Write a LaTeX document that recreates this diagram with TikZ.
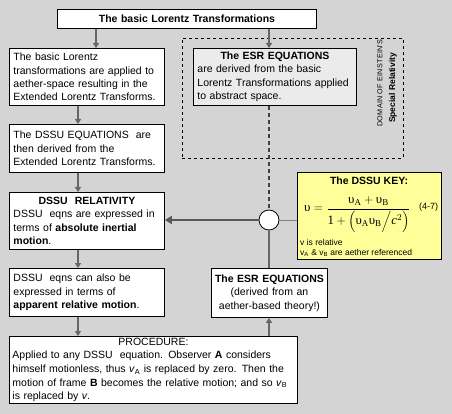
\documentclass[tikz,border=0pt]{standalone}
\usepackage{fontspec}
\usepackage{amsmath}
\setmainfont{Liberation Sans}
\newfontfamily\serif{Liberation Serif}
\usetikzlibrary{arrows.meta,calc}
\definecolor{bg}{HTML}{D4D4D4}
\definecolor{esrfill}{HTML}{EBEBEB}
\definecolor{keyfill}{HTML}{FFFF99}
\definecolor{arrowgray}{HTML}{666666}
\newcommand{\ups}{\text{\serif υ}}
\newcommand{\srm}[1]{\text{\serif #1}}
\begin{document}
\begin{tikzpicture}[x=1pt,y=-1pt,
 box/.style={draw=black, line width=0.9pt, fill=white, anchor=north west, inner xsep=4pt, inner ysep=0pt, align=left, font=\fontsize{10.5}{13.4}\selectfont},
 arr/.style={draw=arrowgray, line width=1.4pt, -{Triangle[length=5pt,width=6pt]}},
]
\fill[bg] (0,0) rectangle (452,414);
\useasboundingbox (0,0) rectangle (452,414);

% domain of special relativity
\node[draw, dashed, line width=0.8pt, minimum width=221pt, minimum height=120pt, anchor=north west, inner sep=0] (domain) at (182,38) {};
\node[rotate=90, font=\fontsize{7.2}{8}\selectfont\addfontfeatures{LetterSpace=4}, inner sep=0] (dom1) at (380,83) {DOMAIN OF EINSTEIN'S};
\node[rotate=90, font=\bfseries\fontsize{8.5}{10}\selectfont, inner sep=0] (dom2) at (393,88) {Special Relativity};

% boxes
\node[box, align=center, text width=251pt, minimum height=19pt, font=\bfseries\fontsize{10.5}{13}\selectfont] (title) at (57,9) {The basic Lorentz Transformations};

\node[box, text width=147pt, minimum height=57pt] (b1) at (9,48) {The basic Lorentz\\transformations are applied to\\aether-space resulting in the\\Extended Lorentz Transforms.};

\node[box, text width=147pt, minimum height=48pt] (b2) at (9,124) {The DSSU EQUATIONS\ \ are\\then derived from the\\Extended Lorentz Transforms.};

\node[box, text width=147pt, minimum height=57pt] (b3) at (9,192) {\makebox[\hsize][c]{\bfseries DSSU\ \ RELATIVITY}\\DSSU\ \ eqns are expressed in\\terms of \textbf{absolute inertial}\\\textbf{motion}.};

\node[box, text width=147pt, minimum height=48pt] (b4) at (9,268) {DSSU\ \ eqns can also be\\expressed in terms of\\\textbf{apparent relative motion}.};

\node[box, fill=esrfill, text width=155pt, minimum height=57pt] (esr1) at (193,48) {\makebox[\hsize][c]{\bfseries The ESR EQUATIONS}\\are derived from the basic\\Lorentz Transformations applied\\to abstract space.};

\node[box, align=center, inner xsep=1pt, text width=114pt, minimum height=49pt] (esr2) at (211,268) {\textbf{The ESR EQUATIONS}\\(derived from an\\aether-based theory!)};

\node[box, inner xsep=3pt, text width=282pt, minimum height=67pt, font=\fontsize{10.5}{13.6}\selectfont] (proc) at (9,336) {\makebox[\hsize][c]{PROCEDURE:}\\Applied to any DSSU\ \ equation. Observer \textbf{A} considers\\himself motionless, thus \textit{v}\textsubscript{A} is replaced by zero. Then the\\motion of frame \textbf{B} becomes the relative motion; and so \textit{v}\textsubscript{B}\\is replaced by \textit{v}.};

% key
\node[draw, line width=0.9pt, fill=keyfill, minimum width=144pt, minimum height=87pt, anchor=north west, inner sep=0] (key) at (297,172) {};
\node[font=\bfseries\fontsize{10.5}{13}\selectfont, inner sep=0] (keytitle) at (369,181) {The DSSU KEY:};
\node[inner sep=0, anchor=base west, font=\fontsize{12.8}{15}\selectfont] (eq) at (304,211.9) {$\ups = \dfrac{\ups_{\srm{A}} + \ups_{\srm{B}}}{\srm{1}+\Big(\ups_{\srm{A}}\ups_{\srm{B}}\Big/\text{\serif\itshape c}^{2}\Big)}$};
\node[font=\fontsize{9}{10}\selectfont, inner sep=0] (eqno) at (428.5,207) {(4-7)};
\node[anchor=west, font=\fontsize{8.5}{10}\selectfont, inner sep=0] (n1) at (300,242) {v is relative};
\node[anchor=west, font=\fontsize{8.5}{10}\selectfont, inner sep=0] (n2) at (300,253) {v\textsubscript{A} \& v\textsubscript{B} are aether referenced};

% hub
\node[circle, draw, fill=white, minimum size=20pt, inner sep=0, line width=0.8pt] (hub) at (269,220) {};

% connectors
\coordinate (xa) at (96,0);
\coordinate (xc) at (78,0);
\draw[arr] (title.south -| xa) -- (b1.north -| xa);
\draw[arr] (title.south -| hub) -- (esr1.north -| hub);
\draw[arr] (b1.south -| xc) -- (b2.north -| xc);
\draw[arr] (b2.south -| xc) -- (b3.north -| xc);
\draw[arr] (b3.south -| xc) -- (b4.north -| xc);
\draw[arr] (b4.south -| xc) -- (proc.north -| xc);
\draw[arr] (proc.north -| hub) -- (esr2.south -| hub);
\draw[dash pattern=on 4pt off 3pt, line width=1.1pt, draw=black!75] (esr1.south -| hub) -- (hub.north);
\draw[line width=2.5pt, draw=black!65, -{Triangle[length=7pt,width=8pt]}] (hub.west) -- (b3.east |- hub);
\draw[line width=0.9pt, draw=gray] (hub.east) -- (key.west |- hub);
\draw[line width=1.3pt, draw=arrowgray] (hub.south) -- (esr2.north -| hub);
\end{tikzpicture}
\end{document}
